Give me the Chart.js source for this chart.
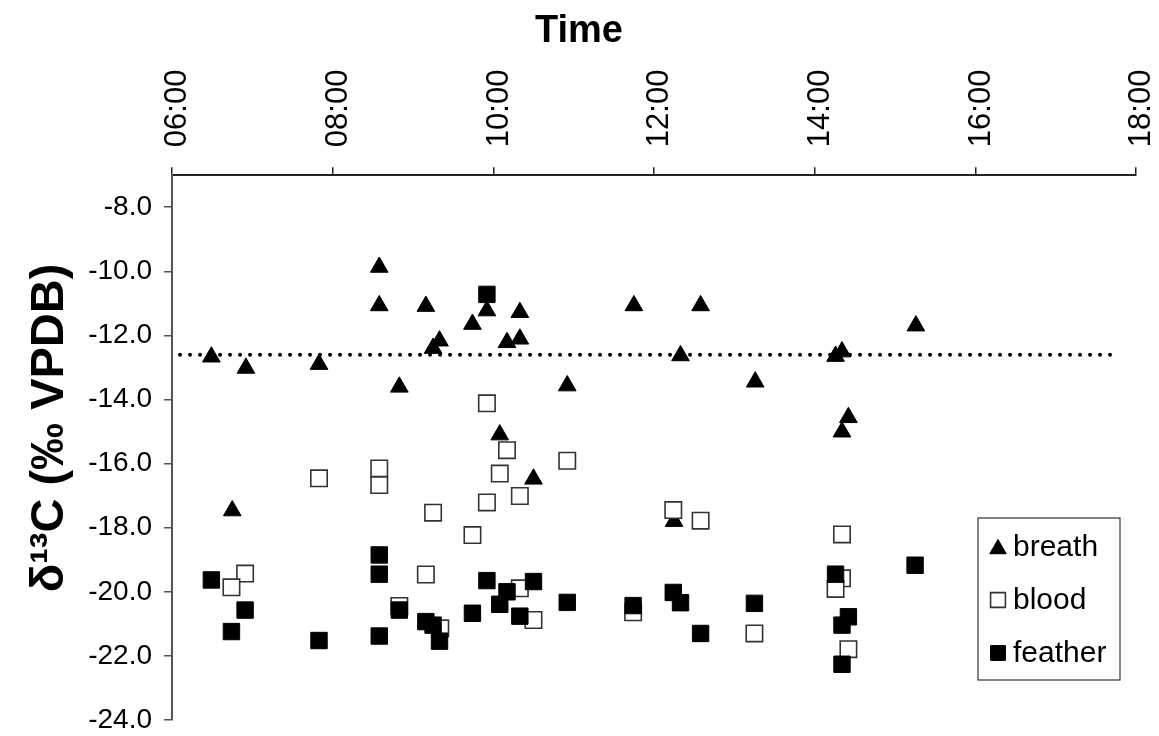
<!DOCTYPE html>
<html>
<head>
<meta charset="utf-8">
<script src="https://cdn.jsdelivr.net/npm/chart.js@4.4.1/dist/chart.umd.min.js"></script>
<style>
  html, body { margin: 0; padding: 0; background: #fff; }
  #wrap { width: 1159px; height: 736px; }
</style>
</head>
<body>
<div id="wrap"><canvas id="grafico" width="1159" height="736"></canvas></div>
<script>
// time of day in hours, d13C in per mil
const breathTime = [6.49, 6.92, 7.83, 8.58, 8.58, 8.83, 9.16, 9.25, 9.33, 9.74, 9.92, 10.33, 10.17, 10.33,
  10.92, 10.08, 11.75, 12.58, 12.33, 13.26, 14.26, 14.34, 15.26, 14.42, 14.34, 6.75, 10.5, 12.25];
const breathD13C = [-12.67, -13.02, -12.90, -9.87, -11.07, -13.61, -11.09, -12.40, -12.17, -11.65, -11.23, -11.28, -12.22, -12.11,
  -13.57, -15.10, -11.07, -11.07, -12.63, -13.45, -12.65, -12.51, -11.70, -14.56, -15.01, -17.47, -16.48, -17.80];

const bloodTime = [6.91, 6.74, 7.83, 8.58, 8.58, 8.83, 9.25, 9.16, 9.34, 9.74, 9.92, 9.92, 10.17,
  10.08, 10.92, 10.33, 12.24, 12.58, 10.33, 10.5, 11.74, 13.25, 14.34, 14.34, 14.26, 14.42];
const bloodD13C = [-19.43, -19.86, -16.46, -16.15, -16.67, -20.44, -17.53, -19.46, -21.14, -18.23, -17.21, -14.12, -15.58,
  -16.31, -15.91, -17.01, -17.45, -17.78, -19.89, -20.88, -20.64, -21.30, -18.21, -19.58, -19.91, -21.79];

const featherTime = [6.49, 6.91, 6.74, 7.83, 8.58, 8.58, 8.58, 8.83, 9.16, 9.25, 9.33, 9.74, 9.92, 9.92, 10.17,
  10.5, 10.08, 10.33, 10.92, 11.74, 12.24, 12.33, 12.58, 13.25, 15.25, 14.26, 14.42, 14.34, 14.34];
const featherD13C = [-19.63, -20.57, -21.24, -21.52, -18.85, -19.45, -21.38, -20.57, -20.93, -21.04, -21.54, -20.67, -19.65, -10.72, -20.0,
  -19.68, -20.39, -20.76, -20.33, -20.43, -20.02, -20.34, -21.30, -20.36, -19.17, -19.45, -20.78, -21.04, -22.26];

// dotted reference level
const meanTime = [6.1, 17.78];
const meanD13C = [-12.6, -12.6];

const timeTicks = [6, 8, 10, 12, 14, 16, 18];
const yTickValues = [-24, -22, -20, -18, -16, -14, -12, -10, -8];

const fonte = "'Liberation Sans', Arial, sans-serif";

function paraPontos(xs, ys) {
  return xs.map((x, i) => ({ x: x, y: ys[i] }));
}

function formatarHora(h) {
  return String(h).padStart(2, '0') + ':00';
}

function desenharMarcador(ctx, estilo, x, y, r, fundo, borda, largura) {
  ctx.save();
  ctx.beginPath();
  if (estilo === 'triangle') {
    ctx.moveTo(x, y - r);
    ctx.lineTo(x + r * Math.sqrt(3) / 2, y + r / 2);
    ctx.lineTo(x - r * Math.sqrt(3) / 2, y + r / 2);
    ctx.closePath();
  } else {
    const s = Math.SQRT1_2 * r;
    ctx.rect(x - s, y - s, 2 * s, 2 * s);
  }
  ctx.fillStyle = fundo;
  ctx.fill();
  ctx.lineWidth = largura;
  ctx.strokeStyle = borda;
  ctx.stroke();
  ctx.restore();
}

// legend box inside the plot, bottom right
const legendaCaixa = {
  id: 'legendaCaixa',
  afterDraw(chart) {
    const ctx = chart.ctx;
    const caixa = { x: 978, y: 518, w: 142, h: 162 };
    ctx.save();
    ctx.strokeStyle = '#333';
    ctx.lineWidth = 1.2;
    ctx.strokeRect(caixa.x, caixa.y, caixa.w, caixa.h);
    const itens = chart.data.datasets.filter(d => d.label);
    ctx.font = '30px ' + fonte;
    ctx.fillStyle = '#000';
    ctx.textBaseline = 'middle';
    itens.forEach((d, i) => {
      const yy = caixa.y + 29 + i * 53;
      desenharMarcador(ctx, d.pointStyle, 998, yy + (d.pointStyle === 'triangle' ? 2 : 0),
        d.pointStyle === 'triangle' ? 9.5 : 10.5, d.backgroundColor, d.borderColor, d.borderWidth);
      ctx.fillText(d.label, 1013, yy + 1);
    });
    ctx.restore();
  }
};

new Chart(document.getElementById('grafico'), {
  type: 'scatter',
  data: {
    datasets: [
      {
        label: 'breath',
        data: paraPontos(breathTime, breathD13C),
        pointStyle: 'triangle',
        pointRadius: 10.2,
        backgroundColor: '#000',
        borderColor: '#000',
        borderWidth: 1,
        order: 3
      },
      {
        label: 'blood',
        data: paraPontos(bloodTime, bloodD13C),
        pointStyle: 'rect',
        pointRadius: 11.6,
        backgroundColor: '#fff',
        borderColor: '#333',
        borderWidth: 1.6,
        order: 2
      },
      {
        label: 'feather',
        data: paraPontos(featherTime, featherD13C),
        pointStyle: 'rect',
        pointRadius: 11.6,
        backgroundColor: '#000',
        borderColor: '#000',
        borderWidth: 1,
        order: 1
      },
      {
        label: '',
        data: paraPontos(meanTime, meanD13C),
        showLine: true,
        pointRadius: 0,
        borderColor: '#000',
        borderWidth: 4,
        borderDash: [0, 10],
        borderCapStyle: 'round',
        fill: false,
        order: 4
      }
    ]
  },
  options: {
    responsive: false,
    animation: false,
    events: [],
    layout: { padding: { left: 22, right: 23, bottom: 0, top: 0 } },
    plugins: {
      legend: { display: false },
      tooltip: { enabled: false },
      title: {
        display: true,
        text: 'Time',
        color: '#000',
        font: { family: fonte, size: 38, weight: 'bold' },
        padding: { top: 9, bottom: -5 }
      }
    },
    scales: {
      x: {
        type: 'linear',
        position: 'top',
        min: 6,
        max: 18,
        afterBuildTicks: s => { s.ticks = timeTicks.map(v => ({ value: v })); },
        afterFit: s => { s.paddingLeft = 0; s.paddingRight = 0; },
        ticks: {
          autoSkip: false,
          minRotation: 90,
          maxRotation: 90,
          padding: 20,
          labelOffset: 43,
          color: '#000',
          font: { family: fonte, size: 31 },
          callback: v => formatarHora(v)
        },
        grid: { drawOnChartArea: false, drawTicks: true, tickLength: 8, color: '#222', lineWidth: 1.5 },
        border: { display: true, color: '#222', width: 2 }
      },
      y: {
        min: -24,
        max: -7,
        afterBuildTicks: s => { s.ticks = yTickValues.map(v => ({ value: v })); },
        afterFit: s => { s.paddingTop = 0; s.paddingBottom = 16; s.width = 150; },
        ticks: {
          padding: 12,
          color: '#000',
          font: { family: fonte, size: 28 },
          callback: v => Number(v).toFixed(1)
        },
        grid: { drawOnChartArea: false, drawTicks: true, tickLength: 8, color: '#555', lineWidth: 1.5 },
        border: { display: true, color: '#555', width: 2 },
        title: {
          display: true,
          text: '   δ¹³C (‰ VPDB)',
          color: '#000',
          font: { family: fonte, size: 47, weight: 'bold' },
          padding: { top: 0, bottom: 10 }
        }
      }
    }
  },
  plugins: [legendaCaixa]
});
</script>
</body>
</html>
